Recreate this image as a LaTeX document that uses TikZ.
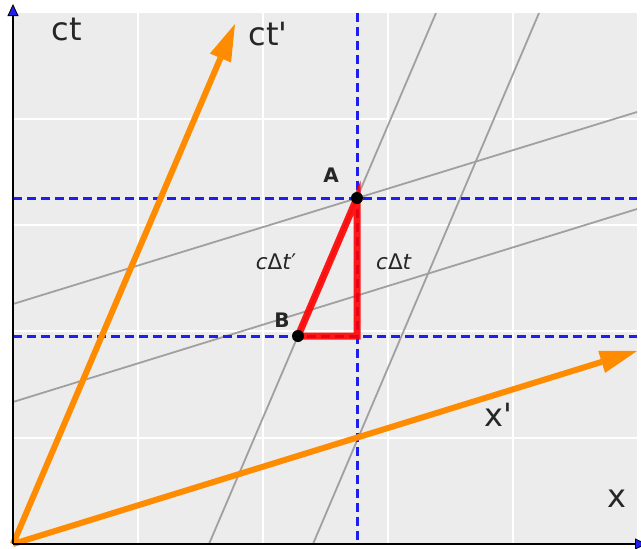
\documentclass[tikz,border=0pt]{standalone}
\usepackage{fontspec}
\setmainfont{DejaVu Sans}
\newfontfamily\lf{DejaVu Sans}
\usetikzlibrary{arrows.meta}
\definecolor{bg}{RGB}{236,236,236}
\definecolor{lgray}{RGB}{160,160,160}
\definecolor{dblue}{RGB}{30,30,240}
\definecolor{orng}{RGB}{255,140,0}
\definecolor{txt}{RGB}{38,38,38}
\tikzset{
  gridline/.style={white, line width=1.5pt},
  worldline/.style={lgray, line width=1.8pt},
  bluedash/.style={dblue, line width=3pt, dash pattern=on 9pt off 5pt},
  primeaxis/.style={orng, line width=6pt, -{Triangle[length=37pt,width=23pt,line width=0pt]}},
  mainaxis/.style={black, line width=1.8pt, -{Triangle[length=12pt,width=11pt,fill=dblue,line width=0.8pt]}},
  bigtext/.style={txt, font=\lf\fontsize{32}{32}\selectfont, anchor=base, inner sep=0pt},
  ptlabel/.style={txt, font=\lf\bfseries\fontsize{20}{20}\selectfont, anchor=base, inner sep=0pt},
  dlabel/.style={txt, font=\lf\fontsize{21.5}{21.5}\selectfont, anchor=base, inner sep=0pt},
  dot/.style={circle, fill=black, inner sep=0pt, minimum size=12pt}
}
\begin{document}
\begin{tikzpicture}[x=1pt,y=-1pt]
\useasboundingbox (0,0) rectangle (641,549);
\fill[bg] (13,13) rectangle (637,544);
\coordinate (O) at (13,544);
\coordinate (A) at (357,198);
\coordinate (B) at (298,336);
\coordinate (C) at (357,336);
\coordinate (Tp) at (235,24);
\coordinate (Xp) at (637,351);
\coordinate (Ytop) at (13,4);
\coordinate (Xend) at (647,544);
% plot interior
\begin{scope}
\clip (13,13) rectangle (637,544);
\foreach \gx in {138,263,388,513} \draw[gridline] (\gx,13) -- (\gx,544);
\foreach \gy in {119,225,331,438} \draw[gridline] (13,\gy) -- (637,\gy);
% lines of constant t'
\coordinate (s1a) at (13,304); \coordinate (s1b) at (637,112);
\coordinate (s2a) at (13,402); \coordinate (s2b) at (637,209);
\draw[worldline] (s1a) -- (s1b);
\draw[worldline] (s2a) -- (s2b);
% lines of constant x'
\coordinate (w1a) at (209,544); \coordinate (w1b) at (436,13);
\coordinate (w2a) at (313,544); \coordinate (w2b) at (539,13);
\draw[worldline] (w1a) -- (w1b);
\draw[worldline] (w2a) -- (w2b);
% dashed lines
\coordinate (vt) at (357,13); \coordinate (vb) at (357,544);
\coordinate (hAl) at (13,198); \coordinate (hAr) at (637,198);
\coordinate (hBl) at (13,336); \coordinate (hBr) at (637,336);
\draw[bluedash] (vt) -- (vb);
\draw[bluedash] (hAl) -- (hAr);
\draw[bluedash] (hBl) -- (hBr);
\end{scope}
% primed axes
\draw[primeaxis] (O) -- (Tp);
\draw[primeaxis] (O) -- (Xp);
% triangle
\draw[red, opacity=0.9, line width=7pt, line join=miter] (B) -- (A) -- (C) -- cycle;
\node[dot] (Ad) at (A) {};
\node[dot] (Bd) at (B) {};
% main axes
\draw[mainaxis] (O) -- (Ytop);
\draw[mainaxis] (O) -- (Xend);
% labels
\node[bigtext] (lct) at (67,40) {ct};
\node[bigtext] (lctp) at (268,45) {ct'};
\node[bigtext] (lxp) at (498,426) {x'};
\node[bigtext] (lx) at (617,507) {x};
\node[ptlabel] (lA) at (331,182) {A};
\node[ptlabel] (lB) at (282,327) {B};
\node[dlabel] (ldtp) at (276,269) {\textit{c}Δ\textit{t}′};
\node[dlabel] (ldt) at (394,269) {\textit{c}Δ\textit{t}};
\end{tikzpicture}
\end{document}
